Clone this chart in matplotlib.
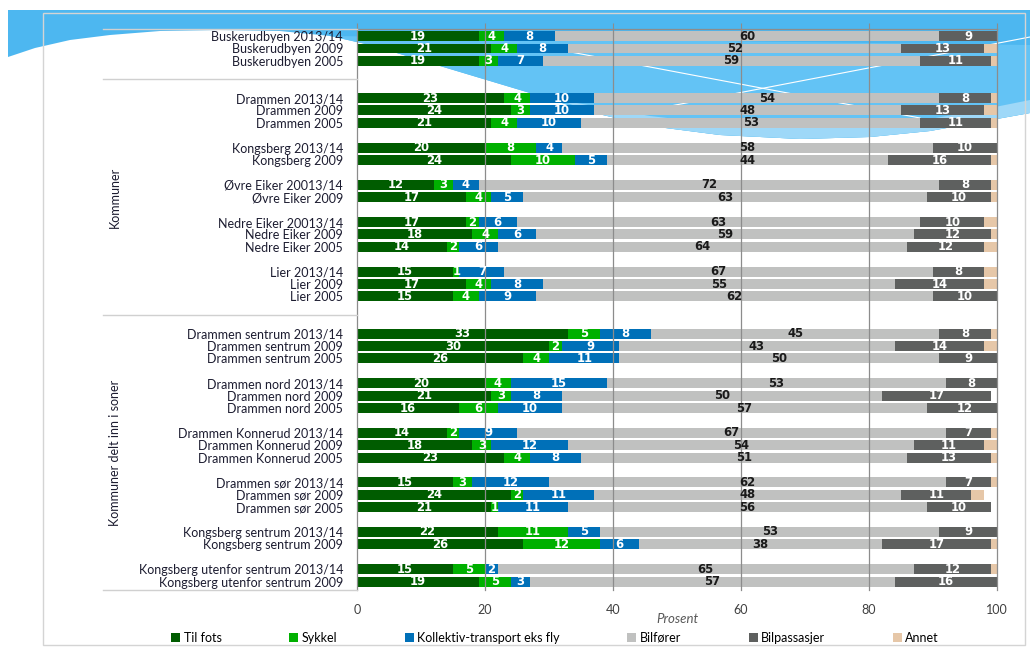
import matplotlib
matplotlib.use("Agg")
import matplotlib.pyplot as plt
from matplotlib.patches import Polygon, Rectangle, Patch
from matplotlib.lines import Line2D
from matplotlib import transforms

# ---- data -----------------------------------------------------------------
sections = [
    ("", [
        ["Buskerudbyen 2013/14", "Buskerudbyen 2009", "Buskerudbyen 2005"],
    ]),
    ("Kommuner", [
        ["Drammen 2013/14", "Drammen 2009", "Drammen 2005"],
        ["Kongsberg 2013/14", "Kongsberg 2009"],
        ["Øvre Eiker 20013/14", "Øvre Eiker 2009"],
        ["Nedre Eiker 20013/14", "Nedre Eiker 2009", "Nedre Eiker 2005"],
        ["Lier 2013/14", "Lier 2009", "Lier 2005"],
    ]),
    ("Kommuner delt inn i soner", [
        ["Drammen sentrum 2013/14", "Drammen sentrum 2009", "Drammen sentrum 2005"],
        ["Drammen nord 2013/14", "Drammen nord 2009", "Drammen nord 2005"],
        ["Drammen Konnerud 2013/14", "Drammen Konnerud 2009", "Drammen Konnerud 2005"],
        ["Drammen sør 2013/14", "Drammen sør 2009", "Drammen sør 2005"],
        ["Kongsberg sentrum 2013/14", "Kongsberg sentrum 2009"],
        ["Kongsberg utenfor sentrum 2013/14", "Kongsberg utenfor sentrum 2009"],
    ]),
]

til_fots = [19, 21, 19, 23, 24, 21, 20, 24, 12, 17, 17, 18, 14, 15, 17, 15,
            33, 30, 26, 20, 21, 16, 14, 18, 23, 15, 24, 21, 22, 26, 15, 19]
sykkel = [4, 4, 3, 4, 3, 4, 8, 10, 3, 4, 2, 4, 2, 1, 4, 4,
          5, 2, 4, 4, 3, 6, 2, 3, 4, 3, 2, 1, 11, 12, 5, 5]
kollektiv = [8, 8, 7, 10, 10, 10, 4, 5, 4, 5, 6, 6, 6, 7, 8, 9,
             8, 9, 11, 15, 8, 10, 9, 12, 8, 12, 11, 11, 5, 6, 2, 3]
bilforer = [60, 52, 59, 54, 48, 53, 58, 44, 72, 63, 63, 59, 64, 67, 55, 62,
            45, 43, 50, 53, 50, 57, 67, 54, 51, 62, 48, 56, 53, 38, 65, 57]
bilpassasjer = [9, 13, 11, 8, 13, 11, 10, 16, 8, 10, 10, 12, 12, 8, 14, 10,
                8, 14, 9, 8, 17, 12, 7, 11, 13, 7, 11, 10, 9, 17, 12, 16]
annet = [0.5, 2, 1, 1, 2, 1, 0.5, 1, 1, 1, 2, 1, 2, 2, 2, 0,
         1, 2, 0, 0.3, 0, 0, 1, 2, 1, 1, 2, 0, 0.5, 1, 1, 0.5]

series_names = ["Til fots", "Sykkel", "Kollektiv-transport eks fly",
                "Bilfører", "Bilpassasjer", "Annet"]
series_values = [til_fots, sykkel, kollektiv, bilforer, bilpassasjer, annet]
series_colors = ["#005C00", "#00B000", "#0070B8", "#C0C1C0", "#5E605F", "#E6C7A8"]
label_colors = ["white", "white", "white", "#1A1A1A", "white", None]

x_ticks = [0, 20, 40, 60, 80, 100]

# ---- row positions: one blank slot between groups, two between sections ----
labels, positions, section_spans = [], [], []
pos = 0
for s_idx, (title, groups) in enumerate(sections):
    start = pos
    for g_idx, grp in enumerate(groups):
        for name in grp:
            labels.append(name)
            positions.append(pos)
            pos += 1
        if g_idx < len(groups) - 1:
            pos += 1
    section_spans.append((title, start, pos - 1))
    pos += 2

W, H = 1030, 648
fig = plt.figure(figsize=(W / 100, H / 100), dpi=100)
fig.patch.set_facecolor("white")


def fp(x, y):
    return (x / W, 1 - y / H)


# ---- decorative slide background ------------------------------------------
main_blue = [(8, 10), (1030, 10), (1030, 113), (980, 122), (930, 131), (870, 137),
             (800, 139), (720, 135), (650, 126), (590, 112), (540, 96), (480, 78),
             (420, 60), (370, 45), (330, 36), (280, 31), (220, 30), (160, 31),
             (110, 35), (70, 40), (35, 48), (8, 57)]
fig.add_artist(Polygon([fp(*p) for p in main_blue], closed=True, transform=fig.transFigure,
                       facecolor="#4DB7F0", edgecolor="none", zorder=-10))
mid_blue = [(330, 36), (1030, 45), (1030, 113), (980, 122), (930, 131), (870, 137),
            (800, 139), (720, 135), (650, 126), (590, 112), (540, 96), (480, 78),
            (420, 60), (370, 45)]
fig.add_artist(Polygon([fp(*p) for p in mid_blue], closed=True, transform=fig.transFigure,
                       facecolor="#63C3F5", edgecolor="none", zorder=-9))
light_band = [(560, 100), (650, 116), (720, 124), (800, 127), (870, 125), (930, 119),
              (980, 110), (1030, 100), (1030, 113), (980, 122), (930, 131), (870, 137),
              (800, 139), (720, 135), (650, 126), (590, 112)]
fig.add_artist(Polygon([fp(*p) for p in light_band], closed=True, transform=fig.transFigure,
                       facecolor="#9ED8F8", edgecolor="none", zorder=-8))
for (x0, y0), (x1, y1) in [((560, 50), (920, 118)), ((660, 108), (1030, 37))]:
    fig.add_artist(Line2D([x0 / W, x1 / W], [1 - y0 / H, 1 - y1 / H],
                          transform=fig.transFigure, color="white", lw=0.8, zorder=-7))
# chart area frame
fig.add_artist(Rectangle(fp(43, 645), 982 / W, 632 / H, transform=fig.transFigure,
                         facecolor="none", edgecolor="#D4D4D4", lw=1.0, zorder=-6))

# ---- plot ------------------------------------------------------------------
ax = fig.add_axes([357 / W, 1 - 590 / H, 640 / W, 561 / H])
ax.patch.set_visible(False)

ymin, ymax = -0.57, 44.68
ax.set_ylim(ymax, ymin)
ax.set_xlim(0, 100)

bar_h = 0.8
lefts = [0.0] * len(labels)
for vals, color, lcol in zip(series_values, series_colors, label_colors):
    ax.barh(positions, vals, left=lefts, height=bar_h, color=color,
            edgecolor="none", zorder=2)
    if lcol is not None:
        for y, l, v in zip(positions, lefts, vals):
            ax.text(l + v / 2, y, f"{v:.0f}", ha="center", va="center",
                    color=lcol, fontsize=8.4, fontweight="bold",
                    family=["Liberation Sans Narrow", "DejaVu Sans"], zorder=4)
    lefts = [l + v for l, v in zip(lefts, vals)]

ax.set_xticks(x_ticks)
ax.set_xticklabels([str(t) for t in x_ticks], fontsize=9, color="#404040",
                   family=["Lato", "DejaVu Sans"])
for xv in x_ticks[1:]:
    ax.axvline(xv, color="#8C8C8C", lw=0.9, zorder=3, clip_on=False)
ax.tick_params(axis="x", which="both", top=True, bottom=False, labeltop=False,
               labelbottom=True, direction="out", length=4, color="#8C8C8C", pad=6)

ax.set_yticks(positions)
ax.set_yticklabels(labels, fontsize=9, color="#1C1C30", family=["Lato", "DejaVu Sans"])
ax.tick_params(axis="y", length=0, pad=10)

for side in ["right", "bottom"]:
    ax.spines[side].set_visible(False)
for side in ["left", "top"]:
    ax.spines[side].set_color("#8C8C8C")
    ax.spines[side].set_linewidth(0.9)

# multi-level category separators (centred in the gap between sections)
bt = transforms.blended_transform_factory(fig.transFigure, ax.transData)
bounds = [ymin] + [end + 1.5 for _, _, end in section_spans[:-1]] + [ymax]
for yv in bounds:
    fig.add_artist(Line2D([103 / W, 357 / W], [yv, yv], transform=bt,
                          color="#D0D0D0", lw=1.0))
for i, (title, start, end) in enumerate(section_spans):
    if title:
        fig.text(115 / W, (bounds[i] + bounds[i + 1]) / 2, title, transform=bt,
                 rotation=90, ha="center", va="center", fontsize=9, color="#1C1C30",
                 family=["Lato", "DejaVu Sans"])

fig.text(677 / W, 1 - 619 / H, "Prosent", ha="center", va="center", fontsize=9.5,
         style="italic", color="#595959", family=["Lato", "DejaVu Sans"])

handles = [Patch(facecolor=c, edgecolor="none") for c in series_colors]
fig.legend(handles, series_names, loc="center", bbox_to_anchor=(0.539, 1 - 638 / H),
           ncol=6, frameon=False, columnspacing=5.4, handlelength=0.7,
           handleheight=0.7, handletextpad=0.3,
           prop={"family": ["Lato", "DejaVu Sans"], "size": 9})

fig.savefig("out.png", dpi=100, facecolor="white")
